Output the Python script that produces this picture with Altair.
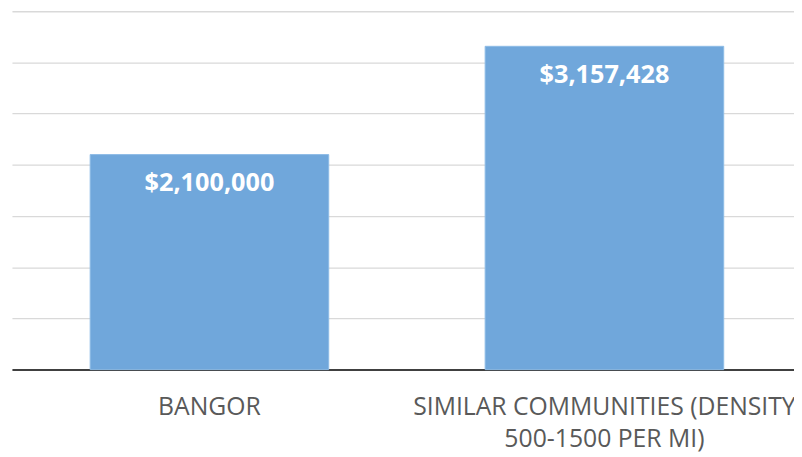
import altair as alt
import pandas as pd

categories = ["BANGOR", "SIMILAR COMMUNITIES (DENSITY\n500-1500 PER MI)"]
values = [2100000, 3157428]
grid_values = [0, 500000, 1000000, 1500000, 2000000, 2500000, 3000000, 3500000]

df = pd.DataFrame({"category": categories, "value": values})

FONT = "Open Sans"

x = alt.X(
    "category:N",
    sort=categories,
    title=None,
    scale=alt.Scale(paddingInner=0.396, paddingOuter=0.198),
    axis=alt.Axis(
        labelAngle=0,
        labelFont=FONT,
        labelFontSize=25,
        labelColor="#595959",
        labelLimit=0,
        labelOverlap=False,
        labelLineHeight=33,
        labelPadding=25,
        labelExpr="split(datum.label, '\\n')",
        ticks=False,
        domainColor="#404040",
        domainWidth=2,
        grid=False,
    ),
)

y = alt.Y(
    "value:Q",
    title=None,
    scale=alt.Scale(domain=[0, 3500000], nice=False),
    axis=alt.Axis(
        labels=False,
        ticks=False,
        domain=False,
        grid=True,
        gridColor="#d9d9d9",
        gridWidth=1.3,
        values=grid_values,
    ),
)

bars = alt.Chart(df).mark_bar(color="#70a7db", stroke="#8dbbe6", strokeWidth=1).encode(x=x, y=y)

labels = alt.Chart(df).mark_text(
    color="white",
    font=FONT,
    fontSize=25.5,
    fontWeight="bold",
    baseline="middle",
    dy=29,
).encode(x=x, y=y, text=alt.Text("value:Q", format="$,.0f"))

chart = (
    alt.layer(bars, labels)
    .properties(
        width=798,
        height=362,
        autosize=alt.AutoSizeParams(type="none"),
        padding={"left": 4, "top": 1, "right": -8, "bottom": 84},
    )
    .configure_view(stroke=None)
)

chart.save("out.html", embed_options={"renderer": "svg", "actions": False})
